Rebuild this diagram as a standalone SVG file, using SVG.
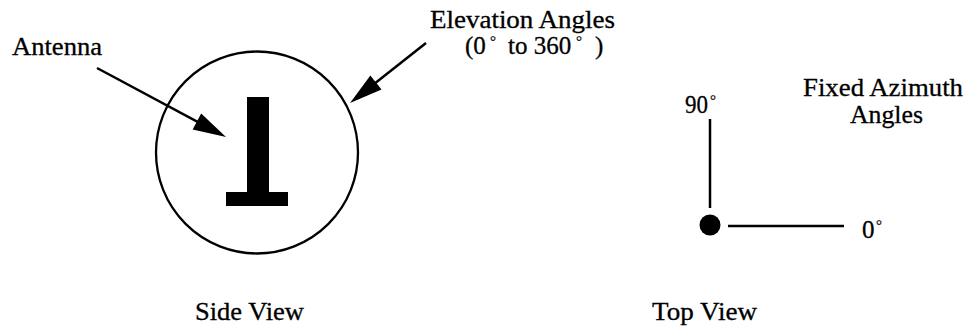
<svg xmlns="http://www.w3.org/2000/svg" width="971" height="331" viewBox="0 0 971 331">
<style>
text { font-family: "Liberation Serif", "Times New Roman", serif; font-size: 25px; fill: #000; stroke: #000; stroke-width: 0.3; }
.deg { font-size: 15px; stroke-width: 0.2; }
.ln { stroke: #000; stroke-width: 2.5; fill: none; }
</style>
<defs>
<marker id="ah" viewBox="-24 -10 36 20" markerWidth="36" markerHeight="20" refX="0" refY="0" orient="auto" markerUnits="userSpaceOnUse">
<path d="M10,0 L-23,-9 L-23,9 Z" fill="#000"/>
</marker>
</defs>
<rect width="971" height="331" fill="#fff"/>

<g id="side-view">
<circle cx="257" cy="152.5" r="101" fill="none" stroke="#000" stroke-width="2.3"/>
<path id="antenna-symbol" d="M247,97 H269 V192 H288 V206 H226 V192 H247 Z" fill="#000"/>
</g>

<g id="connectors">
<line class="ln" x1="97" y1="68" x2="217.2" y2="132.3" marker-end="url(#ah)"/>
<line class="ln" x1="426" y1="43" x2="357.9" y2="96.8" marker-end="url(#ah)"/>
<line class="ln" x1="710" y1="119" x2="710" y2="208"/>
<line class="ln" x1="728" y1="226" x2="844" y2="226"/>
</g>

<g id="top-view">
<circle cx="710" cy="225" r="10.5" fill="#000"/>
</g>

<g id="labels">
<text id="antenna-label" x="12" y="55" textLength="90" lengthAdjust="spacingAndGlyphs">Antenna</text>
<text id="elev-label" x="430" y="28" textLength="185" lengthAdjust="spacingAndGlyphs">Elevation Angles</text>
<text id="elev-range"><tspan x="465" y="54">(0</tspan><tspan class="deg" x="490" y="46">°</tspan><tspan x="508" y="54">to 360</tspan><tspan class="deg" x="576" y="46">°</tspan><tspan x="595" y="54">)</tspan></text>
<text id="az-label1" x="803" y="96" textLength="160" lengthAdjust="spacingAndGlyphs">Fixed Azimuth</text>
<text id="az-label2" x="850" y="123" textLength="73" lengthAdjust="spacingAndGlyphs">Angles</text>
<text id="deg90"><tspan x="685" y="113" textLength="23" lengthAdjust="spacingAndGlyphs">90</tspan><tspan class="deg" x="710" y="105">°</tspan></text>
<text id="deg0"><tspan x="862" y="238">0</tspan><tspan class="deg" x="876" y="230">°</tspan></text>
<text id="side-label" x="195" y="320" textLength="109" lengthAdjust="spacingAndGlyphs">Side View</text>
<text id="top-label" x="652" y="320" textLength="105" lengthAdjust="spacingAndGlyphs">Top View</text>
</g>
</svg>
